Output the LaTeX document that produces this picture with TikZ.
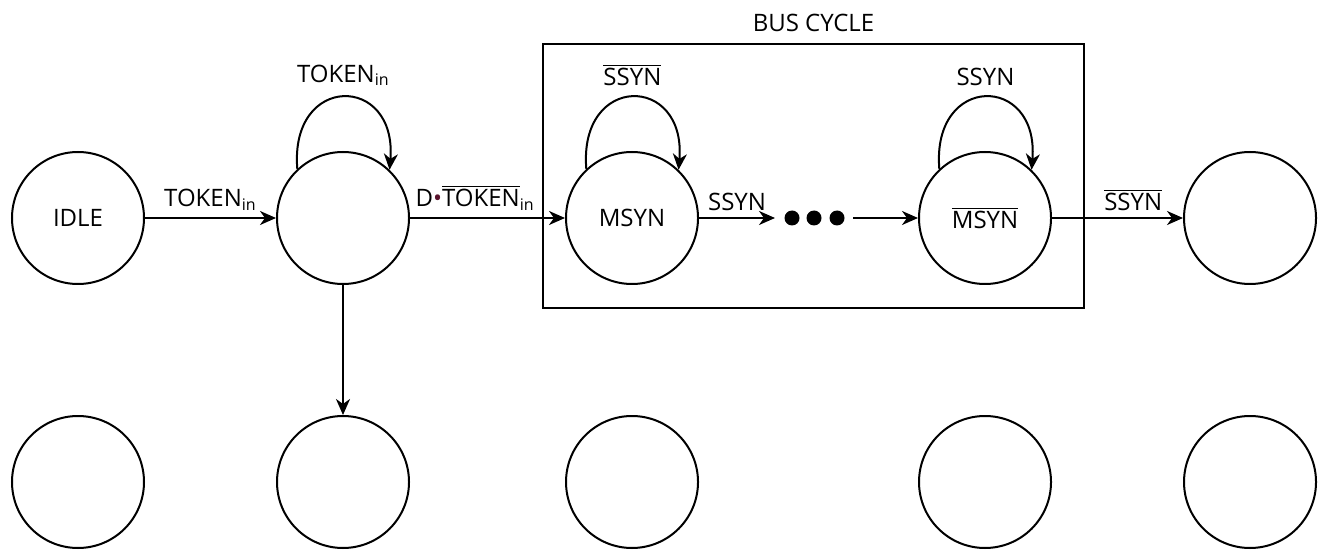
\documentclass[tikz,border=0pt]{standalone}
\usepackage{fontspec}
\setmainfont{Open Sans}
\usepackage{xcolor}
\usepackage{tikz}
\usetikzlibrary{arrows.meta, positioning}

\definecolor{pontoescuro}{RGB}{90,20,45}
\newcommand{\barra}[1]{$\overline{\mbox{#1}}$}

\begin{document}
\begin{tikzpicture}[
    x=0.5pt, y=-0.5pt, line width=1pt,
    >={Stealth[length=8pt,width=7pt,inset=2.5pt]},
    every node/.style={font=\fontsize{12}{14}\selectfont}
  ]
  \tikzset{
    estado/.style={draw, circle, minimum size=66pt, inner sep=0pt},
    caixa/.style={draw, minimum width=270.5pt, minimum height=132pt, inner sep=0pt}
  }
  \useasboundingbox (0,0) rectangle (1320,555);

  % linha de cima
  \node[estado] (idle) at (78,218) {IDLE};
  \node[estado] (espera) at (343,218) {};
  \node[estado] (msyn) at (632,218) {MSYN};
  \node[estado] (msynb) at (985,218) {\barra{MSYN}};
  \node[estado] (fim) at (1250,218) {};

  % linha de baixo
  \foreach \x/\nome in {78/b1, 343/b2, 632/b3, 985/b4, 1250/b5}
    \node[estado] (\nome) at (\x,482) {};

  % ciclo de barramento
  \node[caixa, label={[label distance=2pt]above:BUS CYCLE}] (ciclo) at (813.5,176) {};

  % reticencias
  \foreach \x in {792, 814, 837}
    \fill (\x,218) circle (3.75pt);
  \coordinate (pontoE) at (775,218);
  \coordinate (pontoD) at (853,218);

  % transicoes
  \draw[->] (idle) -- node[above] {TOKEN\textsubscript{in}} (espera);
  \draw[->] (espera) -- node[above, pos=0.42] {D\textcolor{pontoescuro}{\textbullet}\barra{TOKEN}\textsubscript{in}} (msyn);
  \draw[->] (msyn) -- node[above] {SSYN} (pontoE);
  \draw[->] (pontoD) -- (msynb);
  \draw[->] (msynb) -- node[above, pos=0.62] {\barra{SSYN}} (fim);
  \draw[->] (espera) -- (b2);

  % lacos
  \draw[->] (espera.133) .. controls +(-8,-96) and +(8,-96) .. (espera.46)
    node[pos=0.5, above=2pt] {TOKEN\textsubscript{in}};
  \draw[->] (msyn.133) .. controls +(-8,-96) and +(8,-96) .. (msyn.46)
    node[pos=0.5, above=2pt] {\barra{SSYN}};
  \draw[->] (msynb.133) .. controls +(-8,-96) and +(8,-96) .. (msynb.46)
    node[pos=0.5, above=2pt] {SSYN};
\end{tikzpicture}
\end{document}
